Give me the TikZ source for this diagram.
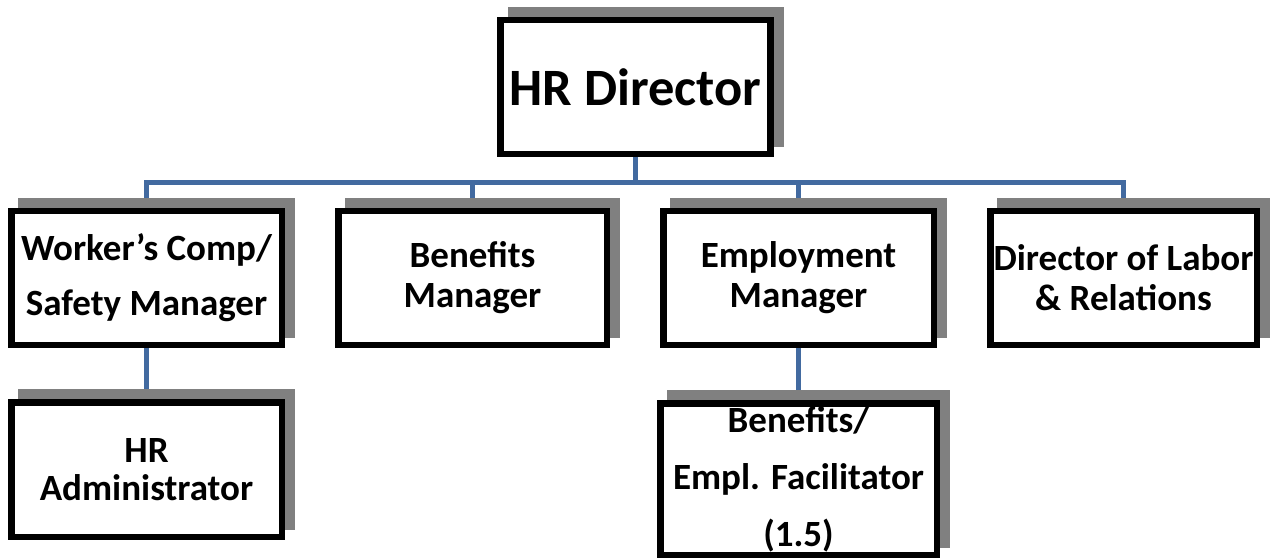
\documentclass[tikz,border=0pt]{standalone}
\usepackage{fontspec}
\setmainfont{Carlito}
\usetikzlibrary{shadows,backgrounds}

\definecolor{linkblue}{RGB}{66,106,160}
\definecolor{shadegray}{RGB}{128,128,128}

\tikzset{
	post/.style = {draw, line width = 6.5pt, fill = white, inner sep = 0pt,
		minimum height = 134pt, align = center,
		font = \bfseries\fontsize{37}{40}\selectfont,
		general shadow = {fill = shadegray, draw = shadegray, line width = 6pt,
			shadow xshift = 10pt, shadow yshift = 10pt}},
	link/.style = {draw = linkblue, line width = 5pt}
}

\begin{document}
\begin{tikzpicture}[x = 1pt, y = -1pt]

\useasboundingbox (0, 0) rectangle (1271, 558);

\node [post, minimum width = 270pt, font = \bfseries\fontsize{52.5}{60}\selectfont] (hrdir) at (635.5, 87) {HR Director};

\node [post, minimum width = 270.5pt, font = \bfseries\fontsize{37}{55}\selectfont] (wcomp) at (146.5, 278) {Worker’s Comp/\\Safety Manager};
\node [post, minimum width = 268.5pt] (benmgr) at (472.5, 278) {Benefits\\Manager};
\node [post, minimum width = 270.5pt] (empmgr) at (798.5, 278) {Employment\\Manager};
\node [post, minimum width = 266.5pt] (labor) at (1123.5, 278) {Director of Labor\\\& Relations};

\node [post, minimum width = 270.5pt, minimum height = 134.5pt, font = \bfseries\fontsize{37}{38}\selectfont] (hradmin) at (146.5, 469.5) {HR\\Administrator};
\node [post, minimum width = 276.5pt, minimum height = 151.5pt, font = \bfseries\fontsize{37}{57}\selectfont] (facil) at (798.5, 479) {Benefits/\\Empl. Facilitator\\(1.5)};

\begin{scope}[on background layer]
	\coordinate (bus) at (635.5, 182.5);
	\draw [link] (hrdir.south) -- (bus);
	\draw [link] (wcomp.north) |- (labor.north |- bus) -- (labor.north);
	\draw [link] (benmgr.north |- bus) -- (benmgr.north);
	\draw [link] (empmgr.north |- bus) -- (empmgr.north);
	\draw [link] (wcomp.south) -- (hradmin.north);
	\draw [link] (empmgr.south) -- (facil.north);
\end{scope}

\end{tikzpicture}
\end{document}
